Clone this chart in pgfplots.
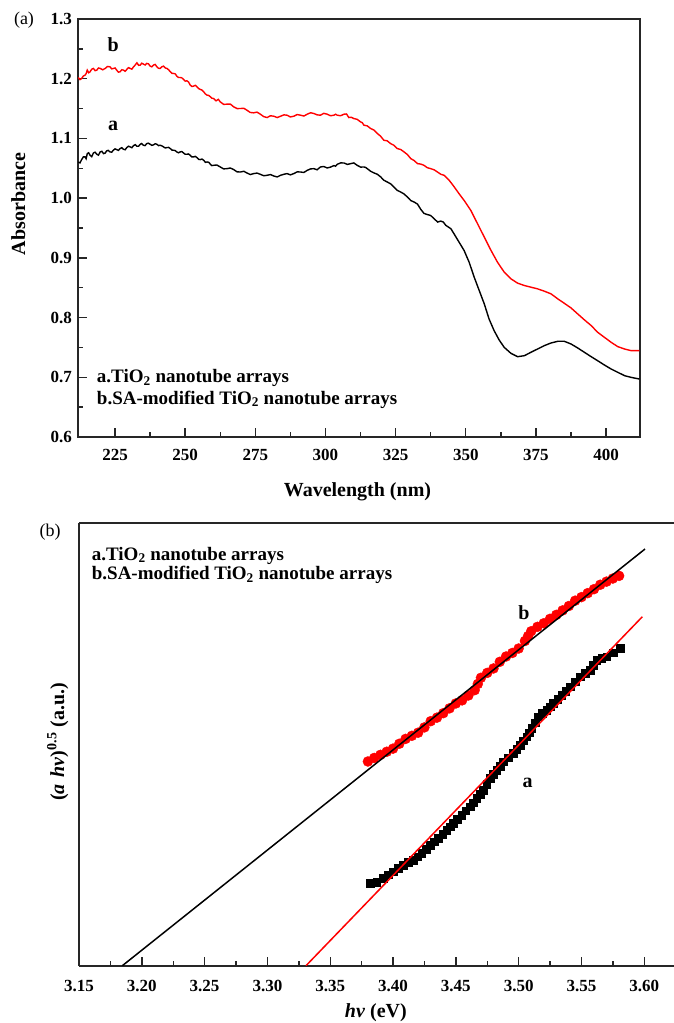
\documentclass[border=0pt]{standalone}
\usepackage{fontspec}
\setmainfont{Liberation Serif}
\usepackage{pgfplots}
\pgfplotsset{compat=1.18}
\newcommand{\tickfont}{\fontsize{17}{17}\selectfont\bfseries}
\newcommand{\labfont}{\fontsize{20}{20}\selectfont\bfseries}
\newcommand{\annfont}{\fontsize{19}{19}\selectfont\bfseries}
\begin{document}
\begin{tikzpicture}
\path[use as bounding box] (0pt,0pt) rectangle (674pt,-1023pt);
% ---------------- panel (a) ----------------
\begin{axis}[
  at={(78pt,-437pt)}, anchor=south west,
  scale only axis, width=562pt, height=418pt,
  xmin=211.8, xmax=412.1, ymin=0.6, ymax=1.3,
  xtick={225,250,275,300,325,350,375,400},
  ytick={0.6,0.7,0.8,0.9,1.0,1.1,1.2,1.3},
  minor x tick num=1, minor y tick num=1,
  tick pos=left, tick align=inside,
  major tick length=9pt, minor tick length=5pt,
  axis line style={line width=2pt, black!85},
  tick style={line width=1.4pt, black!85},
  /pgf/number format/assume math mode=true,
  ticklabel style={font=\tickfont},
  xticklabel style={anchor=base, yshift=-23pt},
  yticklabel style={anchor=east, inner sep=0pt, xshift=-6pt,
    /pgf/number format/fixed, /pgf/number format/fixed zerofill,
    /pgf/number format/precision=1},
  xlabel={Wavelength (nm)},
  ylabel={Absorbance},
  every axis x label/.style={at={(axis description cs:0.4973,-0.1435)}, anchor=base, font=\labfont},
  every axis y label/.style={at={(axis description cs:-0.0943,0.5574)}, anchor=base, rotate=90, font=\labfont},
  clip mode=individual,
]
\addplot[black, line width=1.4pt] coordinates {
(211.9,1.0606)(212.5,1.0590)(213.1,1.0645)(213.7,1.0690)(214.3,1.0690)(214.7,1.0660)(215.1,1.0746)(215.6,1.0760)(216.1,1.0718)(216.7,1.0695)(217.3,1.0757)(217.9,1.0770)(218.5,1.0735)(219.1,1.0720)(219.7,1.0774)(220.3,1.0785)(220.9,1.0746)(221.5,1.0755)(222.0,1.0791)(222.6,1.0800)(223.2,1.0774)(223.8,1.0770)(224.4,1.0802)(225.0,1.0825)(225.6,1.0813)(226.2,1.0800)(226.8,1.0830)(227.4,1.0845)(228.0,1.0819)(228.6,1.0810)(229.2,1.0847)(229.8,1.0870)(230.4,1.0858)(231.0,1.0845)(231.6,1.0880)(232.2,1.0895)(232.8,1.0869)(233.4,1.0870)(234.0,1.0903)(234.5,1.0915)(235.1,1.0886)(235.7,1.0880)(236.3,1.0914)(236.9,1.0920)(237.5,1.0903)(238.1,1.0885)(238.7,1.0892)(239.3,1.0910)(239.9,1.0903)(240.5,1.0880)(241.1,1.0886)(241.7,1.0875)(242.3,1.0858)(242.9,1.0840)(243.5,1.0847)(244.1,1.0850)(244.7,1.0830)(245.3,1.0805)(245.9,1.0802)(246.5,1.0795)(247.0,1.0774)(247.6,1.0760)(248.2,1.0774)(248.8,1.0780)(249.4,1.0757)(250.0,1.0735)(250.6,1.0735)(251.2,1.0740)(251.8,1.0718)(252.4,1.0690)(253.0,1.0690)(253.6,1.0700)(254.2,1.0679)(254.8,1.0650)(255.4,1.0645)(256.0,1.0655)(256.6,1.0634)(257.2,1.0600)(257.8,1.0606)(258.4,1.0600)(259.0,1.0567)(259.5,1.0545)(260.1,1.0550)(261.3,1.0555)(262.5,1.0522)(263.7,1.0490)(264.9,1.0494)(266.1,1.0505)(267.3,1.0478)(268.5,1.0440)(269.7,1.0438)(270.9,1.0450)(272.0,1.0422)(273.2,1.0395)(274.4,1.0411)(275.6,1.0420)(276.8,1.0399)(278.0,1.0375)(279.2,1.0383)(280.4,1.0395)(281.6,1.0371)(282.8,1.0355)(284.0,1.0383)(285.2,1.0400)(286.3,1.0411)(287.5,1.0390)(288.7,1.0411)(289.9,1.0440)(291.1,1.0438)(292.3,1.0430)(293.5,1.0466)(294.7,1.0490)(295.9,1.0494)(297.0,1.0475)(298.2,1.0522)(299.4,1.0530)(300.6,1.0506)(301.8,1.0520)(303.0,1.0545)(303.6,1.0535)(304.2,1.0567)(305.4,1.0590)(306.6,1.0589)(307.8,1.0565)(309.0,1.0578)(310.1,1.0590)(311.3,1.0550)(312.5,1.0520)(313.7,1.0522)(314.3,1.0515)(314.9,1.0494)(316.1,1.0450)(317.3,1.0422)(318.5,1.0400)(319.7,1.0355)(320.8,1.0300)(322.0,1.0271)(323.2,1.0240)(324.4,1.0187)(325.6,1.0130)(326.8,1.0103)(328.0,1.0070)(329.2,1.0019)(330.4,0.9960)(331.6,0.9935)(332.8,0.9900)(334.0,0.9810)(335.1,0.9745)(336.3,0.9725)(337.5,0.9710)(338.7,0.9655)(340.0,0.9600)(341.1,0.9616)(342.0,0.9600)(342.9,0.9544)(344.7,0.9488)(345.8,0.9404)(347.6,0.9264)(349.4,0.9124)(351.2,0.8928)(353.0,0.8677)(354.8,0.8453)(356.6,0.8229)(358.3,0.7977)(360.1,0.7782)(361.9,0.7625)(363.7,0.7502)(366.1,0.7401)(368.5,0.7345)(370.9,0.7362)(373.2,0.7418)(375.6,0.7474)(378.0,0.7530)(380.4,0.7575)(382.8,0.7603)(385.1,0.7603)(387.5,0.7558)(389.9,0.7491)(392.3,0.7418)(394.7,0.7345)(397.0,0.7278)(399.4,0.7206)(401.8,0.7139)(404.2,0.7083)(406.6,0.7027)(408.9,0.6999)(411.9,0.6971)
};
\addplot[red, line width=1.4pt] coordinates {
(211.9,1.2021)(212.5,1.1985)(213.1,1.2004)(213.7,1.2045)(214.3,1.2060)(214.7,1.2085)(215.1,1.2144)(215.6,1.2100)(216.1,1.2116)(216.7,1.2160)(217.3,1.2172)(217.9,1.2135)(218.5,1.2144)(219.1,1.2180)(219.7,1.2172)(220.6,1.2150)(221.5,1.2172)(222.3,1.2205)(223.2,1.2200)(223.8,1.2165)(224.4,1.2172)(225.0,1.2180)(225.6,1.2144)(226.2,1.2110)(226.8,1.2116)(227.4,1.2150)(228.0,1.2144)(228.6,1.2125)(229.2,1.2156)(229.8,1.2185)(230.4,1.2172)(231.0,1.2160)(231.6,1.2200)(232.2,1.2230)(232.8,1.2267)(233.4,1.2225)(234.0,1.2228)(234.5,1.2260)(235.1,1.2245)(235.7,1.2230)(236.3,1.2256)(236.9,1.2250)(237.5,1.2211)(238.1,1.2200)(238.7,1.2228)(239.3,1.2240)(239.9,1.2200)(240.5,1.2175)(241.1,1.2172)(241.7,1.2200)(242.3,1.2211)(242.9,1.2180)(243.5,1.2172)(244.1,1.2150)(244.7,1.2116)(245.3,1.2090)(245.9,1.2088)(246.5,1.2080)(247.0,1.2044)(247.6,1.2020)(248.2,1.2021)(248.8,1.2015)(249.4,1.1988)(250.0,1.1960)(250.6,1.1965)(251.2,1.1945)(251.8,1.1893)(252.4,1.1870)(253.0,1.1876)(253.6,1.1890)(254.2,1.1865)(254.8,1.1835)(255.4,1.1820)(256.0,1.1810)(256.6,1.1781)(257.2,1.1745)(257.8,1.1725)(258.4,1.1720)(259.0,1.1697)(259.5,1.1675)(260.1,1.1669)(261.0,1.1630)(261.8,1.1655)(262.5,1.1613)(263.7,1.1570)(264.9,1.1574)(266.1,1.1575)(267.3,1.1529)(268.5,1.1500)(269.7,1.1501)(270.9,1.1505)(272.0,1.1473)(273.2,1.1435)(274.4,1.1429)(275.6,1.1440)(276.8,1.1406)(278.0,1.1365)(279.2,1.1350)(280.4,1.1380)(281.6,1.1372)(282.8,1.1350)(284.0,1.1372)(285.2,1.1395)(286.3,1.1389)(287.5,1.1360)(288.7,1.1372)(289.9,1.1400)(291.1,1.1389)(292.3,1.1375)(293.5,1.1406)(294.7,1.1430)(295.9,1.1417)(297.0,1.1395)(298.2,1.1389)(299.4,1.1420)(300.6,1.1406)(301.8,1.1380)(303.0,1.1389)(303.6,1.1405)(304.2,1.1389)(305.4,1.1380)(306.6,1.1406)(307.5,1.1410)(308.3,1.1350)(309.2,1.1355)(310.1,1.1333)(311.3,1.1320)(312.5,1.1277)(313.1,1.1265)(313.7,1.1222)(314.9,1.1210)(316.1,1.1166)(317.3,1.1140)(318.5,1.1082)(319.6,1.1040)(320.8,1.0970)(322.0,1.0960)(323.2,1.0914)(324.4,1.0885)(325.6,1.0830)(326.8,1.0815)(328.0,1.0774)(329.2,1.0730)(330.4,1.0662)(331.6,1.0630)(332.8,1.0578)(334.0,1.0570)(335.1,1.0550)(336.3,1.0510)(337.5,1.0494)(338.7,1.0475)(339.9,1.0438)(341.1,1.0400)(342.3,1.0382)(344.1,1.0299)(345.9,1.0187)(347.6,1.0075)(349.4,0.9963)(351.8,0.9795)(354.2,0.9571)(356.6,0.9348)(359.0,0.9124)(361.3,0.8928)(363.7,0.8761)(366.1,0.8649)(368.5,0.8576)(370.9,0.8537)(373.2,0.8509)(375.6,0.8481)(378.0,0.8442)(380.4,0.8397)(382.8,0.8313)(385.1,0.8240)(387.5,0.8162)(389.9,0.8061)(392.3,0.7961)(394.7,0.7866)(397.0,0.7754)(399.4,0.7670)(401.8,0.7586)(404.2,0.7513)(406.6,0.7474)(408.9,0.7446)(411.9,0.7446)
};
\node[font=\labfont, anchor=base] at (axis cs:224.3,1.2451) {b};
\node[font=\labfont, anchor=base] at (axis cs:224.3,1.1138) {a};
\node[font=\annfont, anchor=base west, inner sep=0pt] at (axis cs:218.5,0.6914) {a.TiO\textsubscript{2} nanotube arrays};
\node[font=\annfont, anchor=base west, inner sep=0pt] at (axis cs:218.5,0.6552) {b.SA-modified TiO\textsubscript{2} nanotube arrays};
\end{axis}
\node[font=\fontsize{18}{18}\selectfont, anchor=center] at (24pt,-20pt) {(a)};
% ---------------- panel (b) ----------------
\begin{axis}[
  at={(79pt,-965.7pt)}, anchor=south west,
  scale only axis, width=595pt, height=443pt,
  xmin=3.15, xmax=3.6237, ymin=0, ymax=10,
  axis x line=box, axis y line=left,
  axis line style={line width=2pt, black!85, -},
  xtick={3.15,3.20,3.25,3.30,3.35,3.40,3.45,3.50,3.55,3.60},
  minor x tick num=1,
  xtick pos=left,
  ytick=\empty,
  tick align=inside,
  major tick length=9pt, minor tick length=5pt,
  tick style={line width=1.4pt, black!85},
  /pgf/number format/assume math mode=true,
  ticklabel style={font=\tickfont},
  xticklabel style={anchor=base, yshift=-26pt,
    /pgf/number format/fixed, /pgf/number format/fixed zerofill,
    /pgf/number format/precision=2},
  xlabel={\textit{hv} (eV)},
  ylabel={(\textit{a}\hspace{0.35em}\textit{hv})\textsuperscript{0.5} (a.u.)},
  every axis x label/.style={at={(axis description cs:0.499,-0.1158)}, anchor=base, font=\labfont},
  every axis y label/.style={at={(axis description cs:-0.0252,0.505)}, anchor=base, rotate=90, font=\labfont},
  clip mode=individual,
]
\addplot[only marks, mark=square*, mark size=3.8pt, black] coordinates {
(3.3817,1.860)(3.3870,1.880)(3.3923,1.973)(3.3963,2.050)(3.4002,2.122)(3.4042,2.200)(3.4082,2.273)(3.4122,2.330)(3.4162,2.386)(3.4195,2.460)(3.4228,2.537)(3.4262,2.630)(3.4295,2.725)(3.4328,2.800)(3.4361,2.876)(3.4395,2.970)(3.4428,3.063)(3.4454,3.140)(3.4480,3.214)(3.4513,3.310)(3.4547,3.402)(3.4580,3.500)(3.4613,3.589)(3.4640,3.680)(3.4666,3.779)(3.4692,3.870)(3.4719,3.966)(3.4745,4.100)(3.4772,4.230)(3.4799,4.320)(3.4826,4.418)(3.4852,4.510)(3.4878,4.605)(3.4918,4.700)(3.4958,4.795)(3.4985,4.890)(3.5011,4.982)(3.5038,5.080)(3.5065,5.169)(3.5085,5.260)(3.5104,5.359)(3.5130,5.490)(3.5157,5.621)(3.5190,5.700)(3.5224,5.772)(3.5250,5.850)(3.5276,5.923)(3.5310,6.020)(3.5343,6.111)(3.5376,6.200)(3.5409,6.298)(3.5449,6.410)(3.5489,6.524)(3.5529,6.600)(3.5569,6.675)(3.5595,6.790)(3.5622,6.901)(3.5662,6.940)(3.5701,6.975)(3.5754,7.070)(3.5807,7.165)
};
\addplot[only marks, mark=*, mark size=5pt, red] coordinates {
(3.380,4.61)(3.385,4.69)(3.390,4.76)(3.395,4.83)(3.400,4.90)(3.405,5.01)(3.410,5.12)(3.415,5.19)(3.420,5.26)(3.425,5.38)(3.430,5.52)(3.435,5.60)(3.440,5.70)(3.445,5.81)(3.450,5.92)(3.455,5.99)(3.460,6.10)(3.465,6.22)(3.4675,6.36)(3.470,6.50)(3.475,6.61)(3.480,6.71)(3.485,6.86)(3.490,6.98)(3.495,7.06)(3.500,7.16)(3.505,7.33)(3.5075,7.44)(3.510,7.55)(3.515,7.65)(3.520,7.73)(3.525,7.83)(3.530,7.92)(3.535,8.02)(3.540,8.12)(3.545,8.24)(3.550,8.32)(3.555,8.41)(3.560,8.50)(3.565,8.60)(3.570,8.67)(3.575,8.74)(3.580,8.80)
};
\addplot[black, line width=1.5pt] coordinates {(3.1845,0)(3.6006,9.406)};
\addplot[red, line width=1.5pt] coordinates {(3.3307,0)(3.5985,7.878)};
\node[font=\labfont, anchor=base] at (axis cs:3.5043,7.804) {b};
\node[font=\labfont, anchor=base] at (axis cs:3.5071,4.034) {a};
\node[font=\annfont, anchor=base west, inner sep=0pt] at (axis cs:3.1601,9.158) {a.TiO\textsubscript{2} nanotube arrays};
\node[font=\annfont, anchor=base west, inner sep=0pt] at (axis cs:3.1601,8.722) {b.SA-modified TiO\textsubscript{2} nanotube arrays};
\end{axis}
\node[font=\fontsize{18}{18}\selectfont, anchor=center] at (50pt,-532pt) {(b)};
\end{tikzpicture}
\end{document}
